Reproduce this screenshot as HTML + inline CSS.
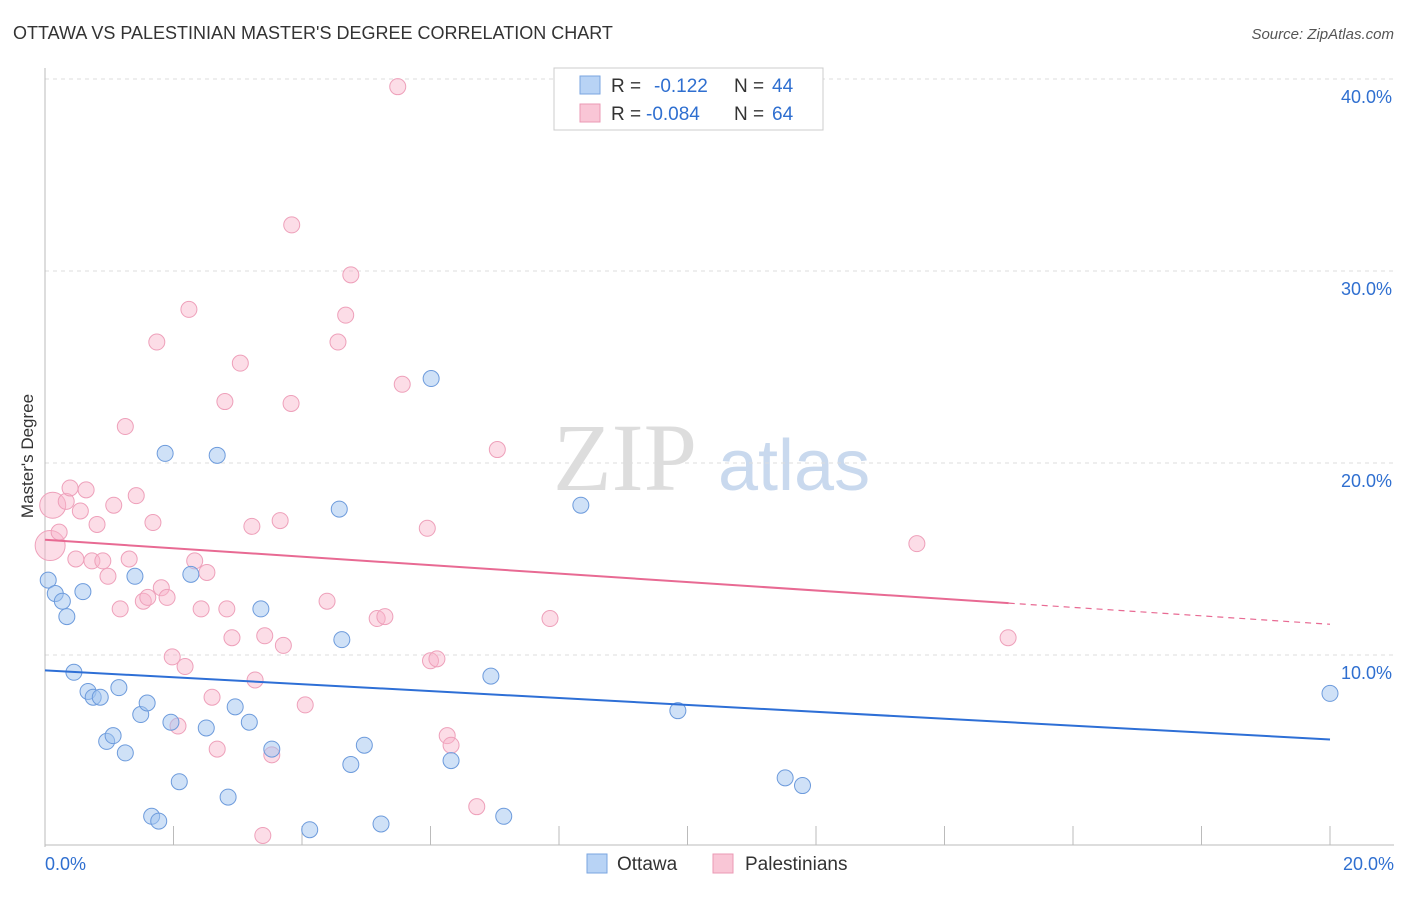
<!DOCTYPE html>
<html><head><meta charset="utf-8"><style>
html,body{margin:0;padding:0;background:#fff;}
body{width:1406px;height:892px;overflow:hidden;font-family:"Liberation Sans",sans-serif;}
</style></head><body>
<svg id="chart" width="1406" height="892" xmlns="http://www.w3.org/2000/svg" font-family="Liberation Sans, sans-serif">
<text x="13" y="39" font-size="18" fill="#333">OTTAWA VS PALESTINIAN MASTER'S DEGREE CORRELATION CHART</text>
<text x="1394" y="39" font-size="15" fill="#555" text-anchor="end" font-style="italic">Source: ZipAtlas.com</text>
<text transform="translate(33,456) rotate(-90)" font-size="17" fill="#333" text-anchor="middle">Master's Degree</text>
<g><text x="553" y="490" font-size="96" fill="#ddd" font-family="Liberation Serif, serif">ZIP</text><text x="718" y="490" font-size="72" fill="#c9d9ee">atlas</text></g>
<g id="grid"></g><g id="marks"></g><g id="lines"></g>
<g>
<rect x="554" y="68" width="269" height="62" fill="#fff" stroke="#ccc"/>
<rect x="580" y="76" width="20" height="18" fill="#b8d3f5" stroke="#7aa6e0"/>
<text x="611" y="92" font-size="19" fill="#333">R = </text><text x="654" y="92" font-size="19" fill="#2f6fd0">-0.122</text>
<text x="734" y="92" font-size="19" fill="#333">N = </text><text x="772" y="92" font-size="19" fill="#2f6fd0">44</text>
<rect x="580" y="104" width="20" height="18" fill="#f9c6d6" stroke="#eb99b4"/>
<text x="611" y="120" font-size="19" fill="#333">R = </text><text x="646" y="120" font-size="19" fill="#2f6fd0">-0.084</text>
<text x="734" y="120" font-size="19" fill="#333">N = </text><text x="772" y="120" font-size="19" fill="#2f6fd0">64</text>
</g>
<g>
<rect x="587" y="854" width="20" height="19" fill="#b8d3f5" stroke="#7aa6e0"/><text x="617" y="870" font-size="19" fill="#333">Ottawa</text>
<rect x="713" y="854" width="20" height="19" fill="#f9c6d6" stroke="#eb99b4"/><text x="745" y="870" font-size="19" fill="#333">Palestinians</text>
</g>
</svg>
<script>
const xTicks=[0,20];
const yTicks=[10,20,30,40];
const ottawaX=[0.05,0.16,0.27,0.34,0.59,0.45,0.67,0.75,0.86,1.15,0.96,1.06,1.25,1.49,1.59,1.40,1.87,2.27,2.68,1.96,2.51,2.96,3.18,2.09,1.66,1.77,2.85,3.36,3.53,4.12,4.58,4.62,4.76,4.97,5.23,6.01,6.32,6.94,7.14,8.34,9.85,11.52,11.79,20.0];
const ottawaY=[13.9,13.2,12.8,12.0,13.3,9.1,8.1,7.8,7.8,8.3,5.5,5.8,4.9,6.9,7.5,14.1,20.5,14.2,20.4,6.5,6.2,7.3,6.5,3.4,1.6,1.35,2.6,12.4,5.1,0.9,17.6,10.8,4.3,5.3,1.2,24.4,4.5,8.9,1.6,17.8,7.1,3.6,3.2,8.0];
const palX=[0.12,0.08,0.22,0.33,0.39,0.64,0.55,0.48,0.73,0.81,0.90,0.98,1.07,1.17,1.25,1.31,1.42,1.53,1.60,1.68,1.74,1.81,1.90,1.98,2.07,2.18,2.24,2.33,2.43,2.52,2.60,2.68,2.80,2.83,2.91,3.04,3.22,3.27,3.39,3.42,3.53,3.66,3.71,3.83,3.84,4.05,4.39,4.56,4.68,4.76,5.17,5.29,5.49,5.56,5.95,6.00,6.10,6.26,6.32,6.72,7.04,7.86,13.57,14.99];
const palY=[17.8,15.7,16.4,18.0,18.7,18.6,17.5,15.0,14.9,16.8,14.9,14.1,17.8,12.4,21.9,15.0,18.3,12.8,13.0,16.9,26.3,13.5,13.0,9.9,6.3,9.4,28.0,14.9,12.4,14.3,7.8,5.1,23.2,12.4,10.9,25.2,16.7,8.7,0.6,11.0,4.8,17.0,10.5,23.1,32.4,7.4,12.8,26.3,27.7,29.8,11.9,12.0,39.6,24.1,16.6,9.7,9.8,5.8,5.3,2.1,20.7,11.9,15.8,10.9];
const palSize=[13,15,10,10,10,10,10,10,10,10,10,10,10,10,10,10,10,10,10,10,10,10,10,10,10,10,10,10,10,10,10,10,10,10,10,10,10,10,10,10,10,10,10,10,10,10,10,10,10,10,10,10,10,10,10,10,10,10,10,10,10,10,10,10];
const ottawaTrend=[9.2,5.6];
const palTrend=[16.0,11.6];
const palSolidEnd=15.0;
const X0=45,X1=1330,Y0=847,PX=768/40;
function sx(v){return X0+(X1-X0)*v/20;}
function sy(v){return Y0-v*PX;}
const NS="http://www.w3.org/2000/svg";
function mk(t,a,p){const e=document.createElementNS(NS,t);for(const k in a)e.setAttribute(k,a[k]);p.appendChild(e);return e;}
const grid=document.getElementById('grid'),marks=document.getElementById('marks'),lines=document.getElementById('lines');
yTicks.forEach(v=>{
 const l=mk('line',{x1:45,x2:1394,y1:sy(v),y2:sy(v),stroke:'#ddd','stroke-dasharray':'4,4'},grid);
 
 
 const t=mk('text',{x:1392,y:sy(v)+24,'font-size':18,fill:'#2f6fd0','text-anchor':'end'},grid);t.textContent=v.toFixed(1)+'%';
 
 
});
const ax=mk('line',{x1:45,x2:45,y1:68,y2:847,stroke:'#bbb'},grid);


const bx=mk('line',{x1:45,x2:1394,y1:845,y2:845,stroke:'#bbb'},grid);


for(let i=0;i<=10;i++){const x=X0+(X1-X0)*i/10;const tk=mk('line',{x1:x,x2:x,y1:826,y2:845,stroke:'#bbb'},grid);
 
 }
xTicks.forEach((v,i)=>{const t=mk('text',{x:i?1394:45,y:870,'font-size':18,fill:'#2f6fd0','text-anchor':i?'end':'start'},grid);t.textContent=v.toFixed(1)+'%';
 
 });
palX.forEach((v,i)=>{const c=mk('circle',{cx:sx(v),cy:sy(palY[i]),r:palSize[i]>10?palSize[i]:8,fill:'rgba(248,180,202,0.45)',stroke:'#eea0ba','stroke-width':1},marks);
 
 });
ottawaX.forEach((v,i)=>{const c=mk('circle',{cx:sx(v),cy:sy(ottawaY[i]),r:8,fill:'rgba(160,196,240,0.5)',stroke:'#6d9bdc','stroke-width':1},marks);
 
 });
const bl=mk('line',{x1:sx(0),y1:sy(ottawaTrend[0]),x2:sx(20),y2:sy(ottawaTrend[1]),stroke:'#2e6fd6','stroke-width':2},lines);


const pm=palTrend[0]+(palTrend[1]-palTrend[0])*palSolidEnd/20;
const pl=mk('line',{x1:sx(0),y1:sy(palTrend[0]),x2:sx(palSolidEnd),y2:sy(pm),stroke:'#e86a93','stroke-width':2},lines);


const pd=mk('line',{x1:sx(palSolidEnd),y1:sy(pm),x2:sx(20),y2:sy(palTrend[1]),stroke:'#e86a93','stroke-width':1.2,'stroke-dasharray':'6,5'},lines);


</script>
</body></html>
